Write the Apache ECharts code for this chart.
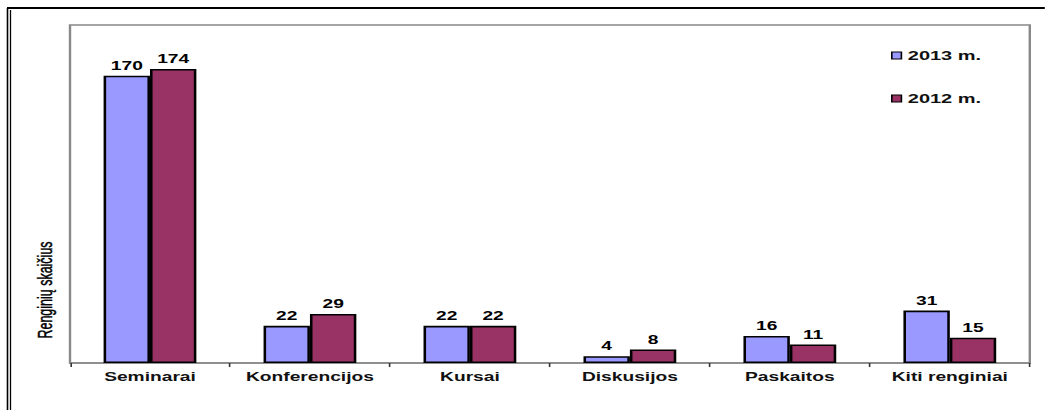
<!DOCTYPE html>
<html>
<head>
<meta charset="utf-8">
<script src="https://cdn.jsdelivr.net/npm/echarts@6/dist/echarts.min.js"></script>
<style>
    html, body { margin: 0; padding: 0; background: #fff; overflow: hidden; }
    /* the original picture is stretched sideways, so the chart is drawn narrow and scaled */
    #chart { width: 653px; height: 410px; transform: scaleX(1.6); transform-origin: 0 0; }
</style>
</head>
<body>
<div id="chart"></div>
<script>
'use strict';

var categories = ['Seminarai', 'Konferencijos', 'Kursai', 'Diskusijos', 'Paskaitos', 'Kiti renginiai'];
var series_names = ['2013 m.', '2012 m.'];
var values_2013 = [170, 22, 22, 4, 16, 31];
var values_2012 = [174, 29, 22, 8, 11, 15];
var y_title = 'Renginių skaičius';

(function (echarts) {

    var FONT = 'Liberation Sans, Arial, sans-serif',
        SX = 1.6; // horizontal stretch of the picture

    var colors = ['#9999ff', '#993366'];

    function barSerie(name, data, color) {
        return {
            name: name,
            type: 'bar',
            data: data,
            barGap: '0%',
            barCategoryGap: '42%',
            itemStyle: {
                color: color,
                borderColor: '#000',
                borderWidth: 1.6
            },
            label: {
                show: true,
                position: 'top',
                distance: 4,
                color: '#000',
                fontFamily: FONT,
                fontWeight: 'bold',
                fontSize: 12
            }
        };
    }

    var chart = echarts.init(document.getElementById('chart'), null, {renderer: 'svg'});

    chart.setOption({
        animation: false,
        grid: {
            left: 70 / SX,
            right: 15 / SX,
            top: 25,
            bottom: 47,
            show: true,
            borderColor: '#888',
            borderWidth: 1.5,
            backgroundColor: '#fff'
        },
        legend: {
            orient: 'vertical',
            left: 891 / SX,
            top: 49,
            padding: 0,
            itemGap: 30,
            itemWidth: 6,
            itemHeight: 7,
            icon: 'rect',
            itemStyle: { borderColor: '#000', borderWidth: 1 },
            textStyle: {
                color: '#111',
                fontFamily: FONT,
                fontWeight: 'bold',
                fontSize: 12.5,
                padding: [0, 0, 0, -1]
            },
            data: series_names
        },
        xAxis: {
            type: 'category',
            data: categories,
            axisLine: { lineStyle: { color: '#888', width: 1.5 } },
            axisTick: { show: true, length: 4, lineStyle: { color: '#333' } },
            axisLabel: {
                margin: 8,
                color: '#111',
                fontFamily: FONT,
                fontWeight: 'bold',
                fontSize: 12,
                interval: 0
            }
        },
        yAxis: {
            type: 'value',
            min: 0,
            max: 200,
            axisLine: { show: false },
            axisTick: { show: false },
            axisLabel: { show: false },
            splitLine: { show: false }
        },
        graphic: [
            // outer frame of the picture
            { type: 'line', shape: { x1: 7 / SX, y1: 8, x2: 1045 / SX, y2: 8 }, style: { stroke: '#000', lineWidth: 2 } },
            { type: 'line', shape: { x1: 7.5 / SX, y1: 8, x2: 7.5 / SX, y2: 410 }, style: { stroke: '#000', lineWidth: 1 } },
            { type: 'line', shape: { x1: 10.5 / SX, y1: 10, x2: 10.5 / SX, y2: 410 }, style: { stroke: '#000', lineWidth: 0.8 } },
            // y axis title
            {
                type: 'text',
                x: 45 / SX,
                y: 290,
                rotation: Math.PI / 2,
                style: {
                    text: y_title,
                    fill: '#000',
                    font: '12.5px ' + FONT,
                    align: 'center',
                    verticalAlign: 'middle',
                    stroke: '#000',
                    lineWidth: 0.3
                }
            }
        ],
        series: [
            barSerie(series_names[0], values_2013, colors[0]),
            barSerie(series_names[1], values_2012, colors[1])
        ]
    });

})(echarts);
</script>
</body>
</html>
